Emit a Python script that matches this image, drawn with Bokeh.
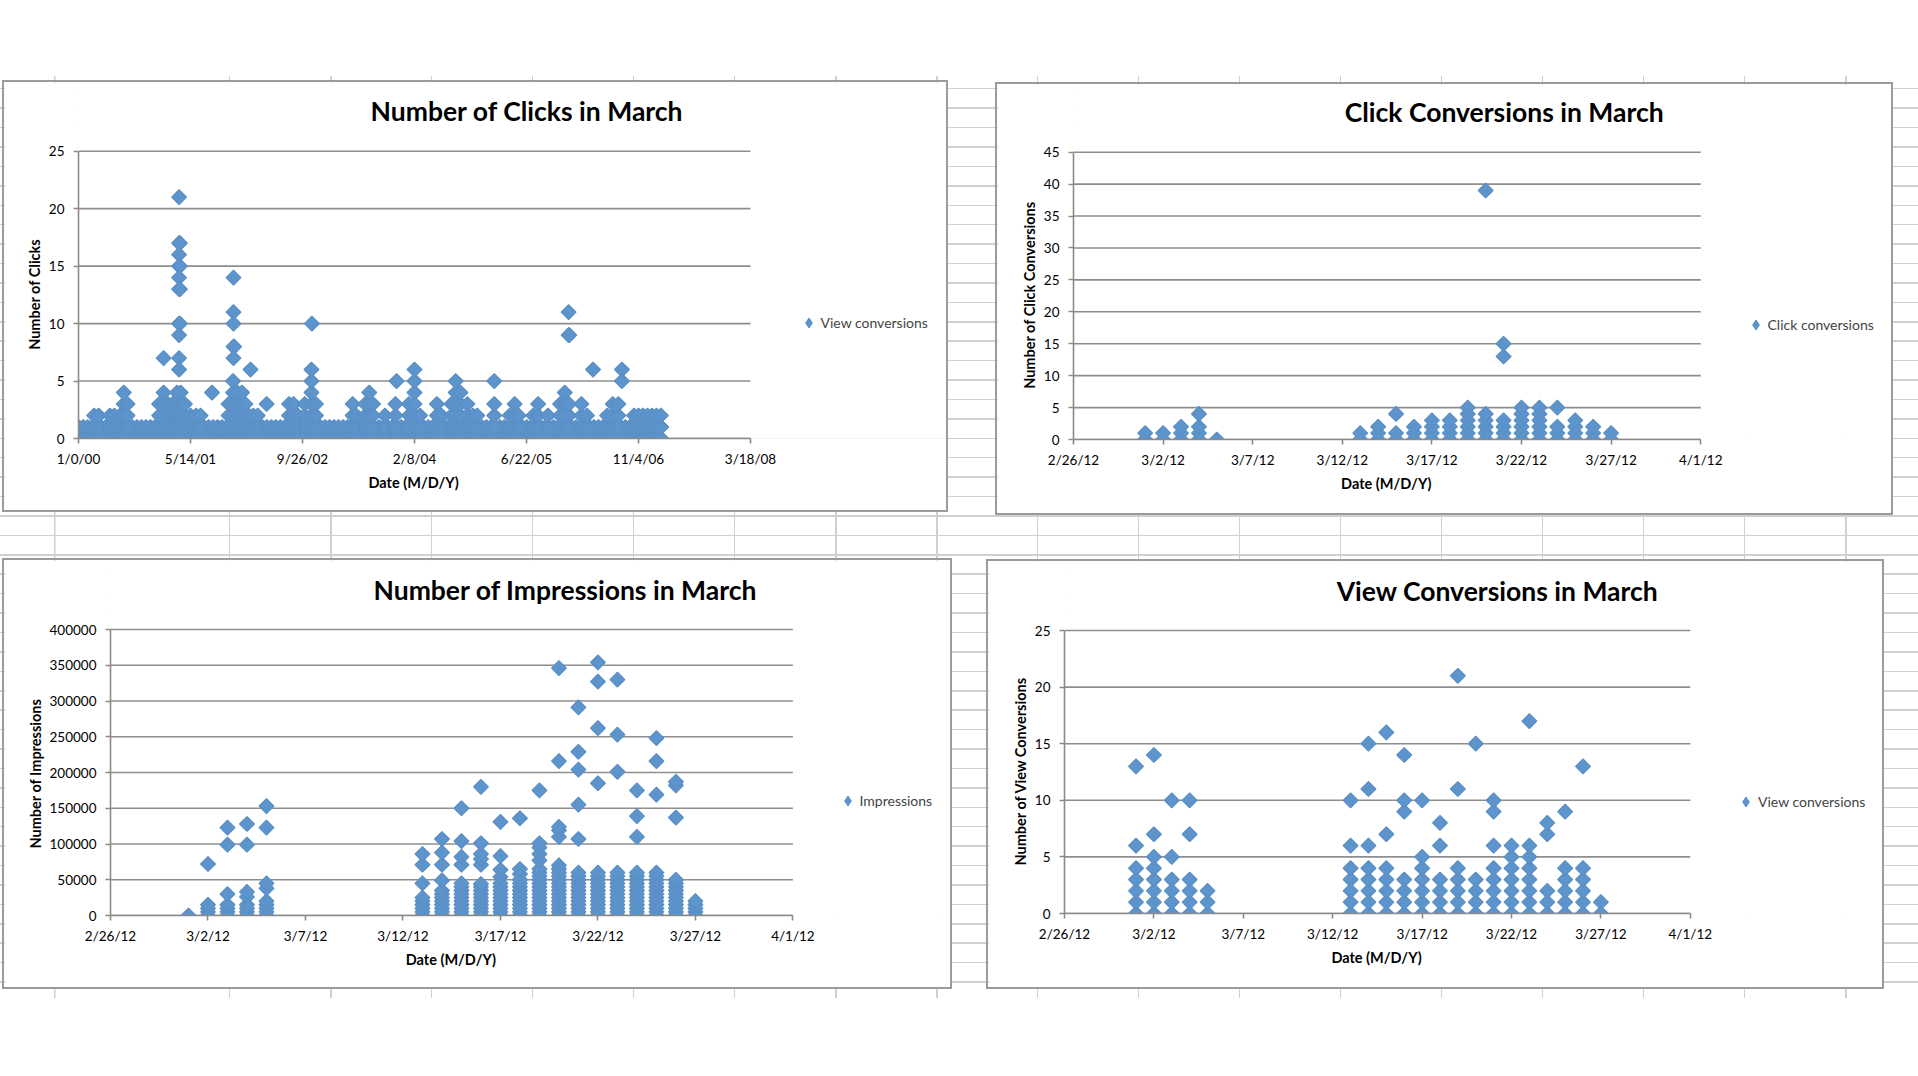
import math
import pandas as pd
from bokeh.plotting import figure
from bokeh.models import (Range1d, FixedTicker, NumeralTickFormatter, Label, Title,
                          Legend, LegendItem, ColumnDataSource, Spacer)
from bokeh.layouts import row, column
from bokeh.embed import file_html
from bokeh.resources import INLINE

# ======================= DATA =======================
# --- Chart 1: Number of Clicks (x = record number, shown by Excel as serial dates)
clicks_x_ticks = [0, 500, 1000, 1500, 2000, 2500, 3000]
clicks_x_labels = ["1/0/00", "5/14/01", "9/26/02", "2/8/04", "6/22/05", "11/4/06", "3/18/08"]
clicks_y_ticks = [0, 5, 10, 15, 20, 25]
# dense band of 0/1 clicks running through almost all records
clicks_band_first = 1
clicks_band_last = 2612
clicks_band_top = 1
# columns of stacked values (every value from 0 up to the top)
clicks_stack_x = [70, 90, 140, 160, 185, 202, 219, 360, 380, 400, 420, 440, 456, 475,
                  500, 525, 545, 670, 690, 710, 730, 745, 760, 780, 800, 940, 960, 980,
                  1010, 1040, 1060, 1224, 1240, 1280, 1298, 1315, 1368, 1415, 1475, 1500,
                  1525, 1600, 1620, 1665, 1684, 1705, 1736, 1760, 1780, 1856, 1925, 1947,
                  1965, 2030, 2052, 2096, 2150, 2171, 2190, 2245, 2270, 2360, 2385, 2410,
                  2480, 2500, 2520, 2540, 2560, 2580, 2600]
clicks_stack_top = [2, 2, 2, 2, 2, 4, 3, 3, 4, 3, 3, 4, 4, 3,
                    2, 2, 2, 3, 5, 4, 4, 3, 2, 2, 2, 3, 3, 2,
                    3, 6, 3, 3, 2, 3, 4, 3, 2, 3, 3, 6,
                    2, 3, 2, 3, 5, 4, 3, 2, 2, 3, 2, 3,
                    2, 2, 3, 2, 3, 4, 3, 3, 2, 2, 3, 3,
                    2, 2, 2, 2, 2, 2, 2]
# isolated higher values
clicks_peak_x = [449, 449, 453, 449, 449, 453, 449, 449, 453, 449, 453, 449, 449, 449,
                 380, 596, 692, 692, 692, 692, 695, 692, 768, 840, 1042, 1420, 1856,
                 2188, 2188, 2191, 2297, 2426, 2426]
clicks_peak_y = [21, 17, 17, 16, 15, 15, 14, 13, 13, 10, 10, 9, 7, 6,
                 7, 4, 14, 11, 10, 8, 8, 7, 6, 3, 10, 5, 5,
                 11, 9, 9, 6, 6, 5]

# --- Charts 2-4 share the March 2012 date axis
march_x_ticks = ["2012-02-26", "2012-03-02", "2012-03-07", "2012-03-12",
                 "2012-03-17", "2012-03-22", "2012-03-27", "2012-04-01"]
march_x_labels = ["2/26/12", "3/2/12", "3/7/12", "3/12/12", "3/17/12", "3/22/12", "3/27/12", "4/1/12"]
march_days = ["2012-03-01", "2012-03-02", "2012-03-03", "2012-03-04", "2012-03-05",
              "2012-03-13", "2012-03-14", "2012-03-15", "2012-03-16", "2012-03-17",
              "2012-03-18", "2012-03-19", "2012-03-20", "2012-03-21", "2012-03-22",
              "2012-03-23", "2012-03-24", "2012-03-25", "2012-03-26", "2012-03-27"]

# --- Chart 2: Click conversions
cc_y_ticks = [0, 5, 10, 15, 20, 25, 30, 35, 40, 45]
cc_stack_top = [1, 1, 2, 2, 0, 1, 2, 1, 2, 3, 3, 5, 4, 3, 5, 5, 2, 3, 2, 1]
cc_peak_day = ["2012-03-04", "2012-03-15", "2012-03-20", "2012-03-21", "2012-03-21", "2012-03-24"]
cc_peak_y = [4, 4, 39, 13, 15, 5]

# --- Chart 3: Impressions
imp_y_ticks = [0, 50000, 100000, 150000, 200000, 250000, 300000, 350000, 400000]
imp_stack_top = [4000, 18000, 18000, 16000, 20000, 25000, 35000, 40000, 40000, 45000,
                 50000, 68000, 70000, 64000, 64000, 64000, 64000, 60000, 53000, 22000]
imp_stack_step = 5000
imp_peak_day = (["2012-03-02"] + ["2012-03-03"] * 3 + ["2012-03-04"] * 4 + ["2012-03-05"] * 4
                + ["2012-03-13"] * 3 + ["2012-03-14"] * 4 + ["2012-03-15"] * 5 + ["2012-03-16"] * 6
                + ["2012-03-17"] * 4 + ["2012-03-18"] * 3 + ["2012-03-19"] * 5 + ["2012-03-20"] * 5
                + ["2012-03-21"] * 5 + ["2012-03-22"] * 4 + ["2012-03-23"] * 3 + ["2012-03-24"] * 3
                + ["2012-03-25"] * 3 + ["2012-03-26"] * 3)
imp_peak_y = [72000,
              30000, 99000, 123000,
              26000, 33000, 99000, 128000,
              38000, 45000, 123000, 153000,
              45000, 71000, 86000,
              49000, 71000, 88000, 107000,
              45000, 71000, 82000, 104000, 150000,
              44000, 71000, 79000, 86000, 101000, 180000,
              54000, 64000, 83000, 131000,
              58000, 65000, 136000,
              77000, 86000, 95000, 101000, 175000,
              110000, 119000, 124000, 216000, 346000,
              107000, 155000, 204000, 229000, 291000,
              185000, 262000, 327000, 354000,
              201000, 253000, 330000,
              110000, 139000, 175000,
              169000, 216000, 248000,
              137000, 182000, 187000]

# --- Chart 4: View conversions
vc_y_ticks = [0, 5, 10, 15, 20, 25]
vc_stack_top = [4, 5, 3, 3, 2, 4, 4, 4, 3, 5, 3, 4, 3, 4, 6, 6, 2, 4, 4, 1]
vc_peak_day = (["2012-03-01"] * 2 + ["2012-03-02"] * 2 + ["2012-03-03"] * 2 + ["2012-03-04"] * 2
               + ["2012-03-13"] * 2 + ["2012-03-14"] * 3 + ["2012-03-15"] * 2 + ["2012-03-16"] * 3
               + ["2012-03-17"] + ["2012-03-18"] * 2 + ["2012-03-19"] * 2 + ["2012-03-20"]
               + ["2012-03-21"] * 3 + ["2012-03-23"] + ["2012-03-24"] * 2 + ["2012-03-25"]
               + ["2012-03-26"])
vc_peak_y = [6, 13, 7, 14, 5, 10, 7, 10,
             6, 10, 6, 11, 15, 7, 16, 9, 10, 14,
             10, 6, 8, 11, 21, 15,
             6, 9, 10, 17, 7, 8, 9,
             13]

# ======================= STYLE =======================
FONT = "Lato"
BLUE = "#5C94CB"
BLUE_EDGE = "#5A8FC6"
GRID = "#8E8E8E"
AXIS = "#8A8A8A"
BORDER = "0 0 0 2px #9B9B9B"
XTITLE = "Date (M/D/Y)"
XTITLE_W = 92          # rendered width of the x-axis title (px)


def ms(day):
    return pd.Timestamp(day).value / 1e6


def stack_points(xs, tops, step=1):
    px, py = [], []
    for x, t in zip(xs, tops):
        v = 0
        while v <= t:
            px.append(x)
            py.append(v)
            v += step
    return px, py


def make_chart(title, ylabel, ylabel_w, legend_label, x0, x1, y0, y1, x_ticks, x_labels,
               y_ticks, xs, ys, box, plot, title_c, legend_c, y_fmt=None):
    """box = (left, top, width, height) of the chart object on the page,
    plot = (left, right, top, bottom) of the plot area on the page."""
    bl, bt, bw, bh = box
    mb_left = round(plot[0] - bl)
    mb_bottom = round(bt + bh - plot[3])
    pl = bl + mb_left
    pb = bt + bh - mb_bottom
    pw = plot[1] - pl
    ph = pb - plot[2]
    # the frame covers the whole area right of / above the axes
    x_end = x1 + (x1 - x0) * (bl + bw - plot[1]) / pw
    y_end = y1 + (y1 - y0) * (plot[2] - bt) / ph

    p = figure(width=bw, height=bh, output_backend="svg", toolbar_location=None, tools="",
               title=None, x_range=Range1d(x0, x_end), y_range=Range1d(y0, y_end),
               min_border_left=mb_left, min_border_right=0,
               min_border_top=0, min_border_bottom=mb_bottom,
               background_fill_color="white", border_fill_color="white",
               styles={"box-shadow": BORDER})
    p.outline_line_color = None
    p.xgrid.visible = False
    p.ygrid.visible = False

    # horizontal gridlines over the plot area only
    p.segment(x0=[x0] * len(y_ticks), x1=[x1] * len(y_ticks), y0=y_ticks, y1=y_ticks,
              line_color=GRID, line_width=1.6)

    p.xaxis.ticker = FixedTicker(ticks=x_ticks, minor_ticks=[])
    p.xaxis.major_label_overrides = dict(zip(x_ticks, x_labels))
    p.xaxis.bounds = (x0, x1)
    p.yaxis.ticker = FixedTicker(ticks=y_ticks, minor_ticks=[])
    p.yaxis.bounds = (y0, y1)
    if y_fmt is not None:
        p.yaxis.formatter = y_fmt

    for ax in (p.xaxis[0], p.yaxis[0]):
        ax.axis_line_color = AXIS
        ax.axis_line_width = 1.6
        ax.major_tick_line_color = AXIS
        ax.major_tick_line_width = 1.6
        ax.major_tick_out = 5
        ax.major_tick_in = 0
        ax.minor_tick_line_color = None
        ax.major_label_text_font = FONT
        ax.major_label_text_font_size = "13.5px"
        ax.major_label_text_color = "black"
    p.xaxis.major_label_standoff = 7
    p.yaxis.major_label_standoff = 9

    # axis titles, centred on the plot area
    p.add_layout(Title(text=XTITLE, align="left", offset=(pw - XTITLE_W) / 2,
                       vertical_align="top", standoff=8, text_font=FONT,
                       text_font_style="bold", text_font_size="14.5px",
                       text_color="black"), "below")
    p.add_layout(Title(text=ylabel, align="left", offset=(ph - ylabel_w) / 2,
                       vertical_align="bottom", standoff=6, text_font=FONT,
                       text_font_style="bold", text_font_size="14.5px",
                       text_color="black"), "left")

    src = ColumnDataSource(dict(x=xs, y=ys))
    # legend glyph renderer (its single point is hidden under the series marker)
    rl = p.scatter(x=xs[:1], y=ys[:1], marker="diamond", size=10,
                   fill_color=BLUE, line_color=BLUE_EDGE)
    p.scatter("x", "y", source=src, marker="square", angle=math.pi / 4, size=10.5,
              fill_color=BLUE, line_color=BLUE_EDGE, line_width=1.2)

    tx = x0 + (title_c[0] - pl) / pw * (x1 - x0)
    ty = y0 + (pb - title_c[1]) / ph * (y1 - y0)
    p.add_layout(Label(x=tx, y=ty, text=title, text_align="center", text_baseline="middle",
                       text_font=FONT, text_font_style="bold", text_font_size="26.5px",
                       text_color="black"))
    leg = Legend(items=[LegendItem(label=legend_label, renderers=[rl])],
                 location=(legend_c[0] - 12.5 - pl, pb - legend_c[1] - 12.5),
                 border_line_color=None, background_fill_alpha=0,
                 padding=0, margin=0, spacing=0, glyph_width=25, glyph_height=25,
                 label_standoff=-7, label_height=25, label_text_font=FONT,
                 label_text_font_size="14px", label_text_baseline="middle")
    p.add_layout(leg)
    return p


# ---- chart 1 points
c1x, c1y = [], []
x = clicks_band_first
while x <= clicks_band_last:
    for v in range(clicks_band_top + 1):
        c1x.append(x)
        c1y.append(v)
    x += 20
sx, sy = stack_points(clicks_stack_x, clicks_stack_top)
c1x += sx + clicks_peak_x
c1y += sy + clicks_peak_y

p1 = make_chart("Number of Clicks in March", "Number of Clicks", 110, "View conversions",
                0, 3000, 0, 25, clicks_x_ticks, clicks_x_labels, clicks_y_ticks,
                c1x, c1y, (4, 82, 942, 428), (78.4, 750, 150.7, 437.7),
                (526.6, 110), (808, 322))

# ---- march charts
mdays = [ms(d) for d in march_days]
mticks = [ms(d) for d in march_x_ticks]
mx0, mx1 = ms(march_x_ticks[0]), ms(march_x_ticks[-1])

sx, sy = stack_points(mdays, cc_stack_top)
p2 = make_chart("Click Conversions in March", "Number of Click Conversions", 186,
                "Click conversions", mx0, mx1, 0, 45, mticks, march_x_labels, cc_y_ticks,
                sx + [ms(d) for d in cc_peak_day], sy + cc_peak_y,
                (997, 84, 894, 429), (1072.9, 1700.2, 151.7, 439.3),
                (1503.7, 111.7), (1755, 324))

sx, sy = stack_points(mdays, imp_stack_top, imp_stack_step)
p3 = make_chart("Number of Impressions in March", "Number of Impressions", 152, "Impressions",
                mx0, mx1, 0, 400000, mticks, march_x_labels, imp_y_ticks,
                sx + [ms(d) for d in imp_peak_day], sy + imp_peak_y,
                (4, 560, 946, 427), (110.2, 792.4, 629, 915),
                (565, 589.6), (847, 800.7), y_fmt=NumeralTickFormatter(format="0"))

sx, sy = stack_points(mdays, vc_stack_top)
p4 = make_chart("View Conversions in March", "Number of View Conversions", 187,
                "View conversions", mx0, mx1, 0, 25, mticks, march_x_labels, vc_y_ticks,
                sx + [ms(d) for d in vc_peak_day], sy + vc_peak_y,
                (988, 561, 894, 426), (1064, 1689.8, 630, 913.3),
                (1497, 590), (1745.5, 801))

LINE = "#D0D0D0"
bg = {
    "background-color": "white",
    "background-image": (
        f"repeating-linear-gradient(180deg, {LINE} 0px, {LINE} 1.5px, rgba(0,0,0,0) 1.5px, rgba(0,0,0,0) 19.42px), "
        f"repeating-linear-gradient(90deg, {LINE} 0px, {LINE} 1.5px, rgba(0,0,0,0) 1.5px, rgba(0,0,0,0) 101px), "
        f"linear-gradient({LINE}, {LINE})"),
    "background-size": "100% 895px, 1690px 922px, 1.5px 922px",
    "background-position": "0px 87.5px, 229px 76px, 54px 76px",
    "background-repeat": "no-repeat",
}

root = column(
    Spacer(width=10, height=82),
    row(Spacer(width=4, height=10), p1, Spacer(width=51, height=10),
        column(Spacer(width=10, height=2), p2)),
    Spacer(width=10, height=47),
    row(Spacer(width=4, height=10), p3, Spacer(width=38, height=10),
        column(Spacer(width=10, height=1), p4)),
    width=1918, height=1060, styles=bg,
)

open("out.html", "w").write(file_html(root, INLINE))
